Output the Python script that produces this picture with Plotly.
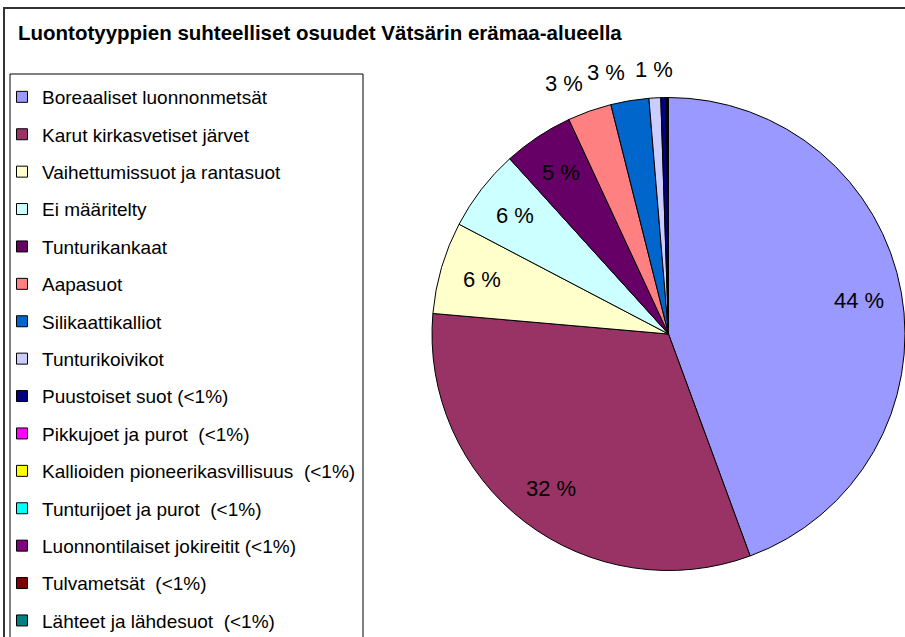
import math
import plotly.graph_objects as go

title_text = "Luontotyyppien suhteelliset osuudet Vätsärin erämaa-alueella"

categories = [
    "Boreaaliset luonnonmetsät",
    "Karut kirkasvetiset järvet",
    "Vaihettumissuot ja rantasuot",
    "Ei määritelty",
    "Tunturikankaat",
    "Aapasuot",
    "Silikaattikalliot",
    "Tunturikoivikot",
    "Puustoiset suot (<1%)",
    "Pikkujoet ja purot  (<1%)",
    "Kallioiden pioneerikasvillisuus  (<1%)",
    "Tunturijoet ja purot  (<1%)",
    "Luonnontilaiset jokireitit (<1%)",
    "Tulvametsät  (<1%)",
    "Lähteet ja lähdesuot  (<1%)",
]

shares = [44.4, 32.0, 6.3, 5.6, 4.8, 3.0, 2.6, 0.8, 0.4, 0.02, 0.02, 0.02, 0.02, 0.02, 0.02]

colors = [
    "#9999FF", "#993366", "#FFFFCC", "#CCFFFF", "#660066", "#FF8080",
    "#0066CC", "#CCCCFF", "#000080", "#FF00FF", "#FFFF00", "#00FFFF",
    "#800080", "#800000", "#008080",
]

W, H = 905, 637
FONT = "Liberation Sans, Arial, sans-serif"

# pie domain (pixels): left 432, right 905, top 97, bottom 571
px_x0, px_x1, px_top, px_bot = 432, 905, 97, 571
cx = (px_x0 + px_x1) / 2
cy = (px_top + px_bot) / 2
r = min(px_x1 - px_x0, px_bot - px_top) / 2

fig = go.Figure()
fig.add_trace(go.Pie(
    labels=categories,
    values=shares,
    textinfo="none",
    sort=False,
    direction="clockwise",
    rotation=0,
    marker=dict(colors=colors, line=dict(color="black", width=1)),
    domain=dict(x=[px_x0 / W, px_x1 / W], y=[1 - px_bot / H, 1 - px_top / H]),
    hoverinfo="label+percent",
    showlegend=False,
))

# legend entries via marker-only traces (one group each so gaps apply)
for name, col in zip(categories, colors):
    fig.add_trace(go.Scatter(
        x=[None], y=[None], mode="markers", name=name,
        legendgroup=name,
        marker=dict(symbol="square", size=11, color=col,
                    line=dict(color="black", width=1)),
        hoverinfo="skip",
    ))

# percentage labels placed from each slice's mid-angle
total = sum(shares)
annotations = []
cum = 0.0
for v in shares:
    mid = (cum + v / 2) / total * 2 * math.pi
    cum += v
    pct = round(v / total * 100)
    if pct < 1:
        continue
    s, c = math.sin(mid), math.cos(mid)
    if v / total >= 0.04:
        k, xa, ya = 0.82, "center", "middle"
    else:
        k = 1.06
        xa = "right" if s < -0.1 else "center"
        ya = "bottom"
    x_px = cx + k * r * s
    y_px = cy - k * r * c
    annotations.append(dict(
        x=x_px / W, y=1 - y_px / H, xref="paper", yref="paper",
        text=f"{pct} %", showarrow=False, xanchor=xa, yanchor=ya,
        font=dict(family=FONT, size=22, color="black"),
    ))

fig.update_layout(
    width=W, height=H,
    margin=dict(l=0, r=0, t=0, b=0, autoexpand=False),
    paper_bgcolor="white",
    plot_bgcolor="white",
    xaxis=dict(visible=False),
    yaxis=dict(visible=False),
    title=dict(
        text="<b>" + title_text + "</b>",
        x=18 / W, xanchor="left", xref="paper",
        y=1 - 33 / H, yanchor="middle", yref="paper",
        font=dict(family=FONT, size=20.5, color="black"),
    ),
    legend=dict(
        x=2 / W, xanchor="left",
        y=1 - 78 / H, yanchor="top",
        bgcolor="rgba(0,0,0,0)",
        borderwidth=0,
        traceorder="grouped",
        tracegroupgap=9.7,
        font=dict(family=FONT, size=19, color="black"),
    ),
    showlegend=True,
    annotations=annotations,
    shapes=[
        dict(type="rect", xref="paper", yref="paper",
             x0=4 / W, x1=1.05, y0=-0.05, y1=1 - 8 / H,
             line=dict(color="#333333", width=2), fillcolor="rgba(0,0,0,0)",
             layer="below"),
        dict(type="rect", xref="paper", yref="paper",
             x0=10 / W, x1=363 / W, y0=-0.05, y1=1 - 74 / H,
             line=dict(color="black", width=1), fillcolor="white",
             layer="below"),
    ],
)

fig.write_html("out.html", config={"displayModeBar": False},
               post_script="document.body.style.margin='0';")
